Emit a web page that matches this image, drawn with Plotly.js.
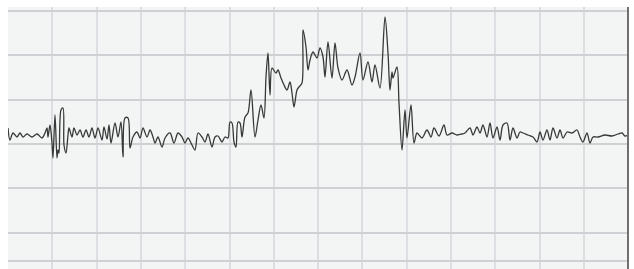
<!DOCTYPE html>
<html>
<head>
<meta charset="utf-8">
<script src="https://cdn.plot.ly/plotly-3.0.1.min.js"></script>
<style>html,body{margin:0;padding:0;background:#fff;}#chart{width:634px;height:269px;}</style>
</head>
<body>
<div id="chart"></div>
<script>
// Signal samples (time, amplitude)
const time = [0,2,5,9,12,15,19,24,29,34,37,39,40,42,44,45,47,49,50,51,53,55,56,58,60,61,64,66,69,72,75,78,81,84,87,90,94,96,99,101,103,107,110,113,115,117,120,122,125,129,132,135,139,142,145,
147,150,154,157,162,166,170,174,177,180,184,187,190,194,197,200,204,207,210,214,217,220,222,224,226,228,230,232,234,237,240,243,247,250,253,256,258,260,262,264,268,270,273,276,279,282,284,286,289,291,294,295,298,300,
302,305,309,312,315,317,320,324,327,330,334,339,344,347,352,355,360,364,367,372,377,380,382,384,385,389,391,394,397,399,403,406,409,414,419,423,426,431,436,439,444,449,454,
457,462,465,469,472,475,479,482,485,489,492,495,499,502,505,509,512,515,520,525,529,532,535,539,542,545,549,552,555,559,564,569,572,575,579,582,585,590,597,604,610,614,617,620];
const amplitude = [16,4,11,7,11,7,10,7,10,6,11,16,7,19,1,-14,29,-14,-6,-9,34,36,-1,-9,9,16,7,16,9,14,7,14,7,16,6,16,4,17,5,19,1,21,7,22,-13,26,26,-4,7,12,6,16,7,14,7,
1,7,-3,6,11,1,11,7,1,6,-1,-6,11,7,2,10,-3,7,8,2,7,6,22,21,2,-3,22,21,7,27,31,54,7,24,39,26,67,91,49,76,71,74,66,59,54,62,51,37,54,57,61,114,97,74,
84,92,86,96,87,67,102,66,101,76,64,74,59,67,91,64,82,62,79,56,127,91,54,72,66,77,41,-6,34,6,39,1,11,6,14,7,16,8,19,9,11,9,10,
11,16,9,17,11,19,7,21,6,17,4,19,21,4,16,6,12,11,9,7,2,12,4,14,4,16,6,14,6,12,11,14,7,2,11,1,7,7,9,8,10,11,8,9];
const gridX = [44.3,88.6,132.9,177.2,221.5,265.8,310.1,354.4,398.7,443,487.3,531.6,575.9];
const gridY = [132.9,88.6,44.3,0,-44.3,-88.6,-117];

const trace = {
  x: time, y: amplitude, type: 'scatter', mode: 'lines',
  line: {color: '#383838', width: 1.3, shape: 'spline', smoothing: 0.9},
  hoverinfo: 'skip'
};
const layout = {
  width: 634, height: 269,
  margin: {l: 8, r: 6, t: 7, b: 0, pad: 0},
  paper_bgcolor: '#ffffff',
  plot_bgcolor: '#f3f5f5',
  showlegend: false,
  xaxis: {range: [0, 620], tickmode: 'array', tickvals: gridX, showticklabels: false, ticks: '',
          showgrid: true, gridcolor: '#dcdfe1', gridwidth: 2, zeroline: false, showline: false, fixedrange: true},
  yaxis: {range: [-125, 137], tickmode: 'array', tickvals: gridY, showticklabels: false, ticks: '',
          showgrid: true, gridcolor: '#cdd1d3', gridwidth: 2, zeroline: false, showline: false, fixedrange: true},
  shapes: [{type: 'line', xref: 'paper', yref: 'paper', x0: 1, x1: 1, y0: 0, y1: 1,
            line: {color: '#707070', width: 2}}]
};
Plotly.newPlot('chart', [trace], layout, {displayModeBar: false, staticPlot: true});
</script>
</body>
</html>
